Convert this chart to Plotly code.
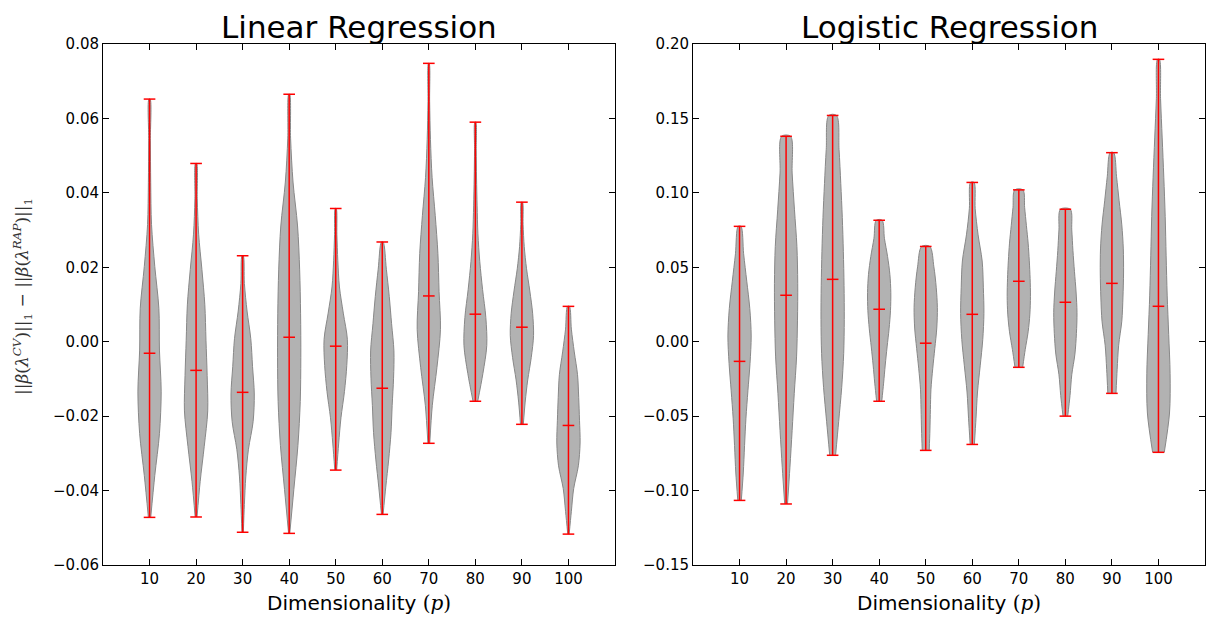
import plotly.graph_objects as go
from plotly.subplots import make_subplots

positions = [10, 20, 30, 40, 50, 60, 70, 80, 90, 100]

# linear regression: extremes and means of the differences
lin_min = [-0.0472, -0.0471, -0.0512, -0.0515, -0.0345, -0.0464, -0.0273, -0.0160, -0.0222, -0.0517]
lin_max = [0.0652, 0.0479, 0.0231, 0.0665, 0.0358, 0.0268, 0.0748, 0.0590, 0.0375, 0.0095]
lin_mean = [-0.0031, -0.0077, -0.0136, 0.0012, -0.0012, -0.0125, 0.0123, 0.0074, 0.0039, -0.0225]

# relative density at 11 evenly spaced levels from min to max
lin_density = [
    [0.10, 0.45, 0.85, 1.00, 0.85, 0.80, 0.45, 0.17, 0.10, 0.07, 0.05],
    [0.08, 0.35, 0.70, 1.00, 0.95, 0.85, 0.75, 0.50, 0.22, 0.10, 0.05],
    [0.06, 0.15, 0.27, 0.50, 0.90, 1.00, 0.85, 0.70, 0.38, 0.15, 0.05],
    [0.05, 0.40, 0.75, 0.95, 1.00, 0.98, 0.90, 0.72, 0.33, 0.12, 0.04],
    [0.08, 0.25, 0.45, 0.75, 0.95, 1.00, 0.65, 0.32, 0.18, 0.10, 0.04],
    [0.07, 0.30, 0.55, 0.75, 0.85, 0.97, 1.00, 0.80, 0.60, 0.35, 0.07],
    [0.08, 0.30, 0.70, 1.00, 0.88, 0.78, 0.55, 0.28, 0.14, 0.07, 0.03],
    [0.20, 0.65, 0.98, 0.90, 0.62, 0.38, 0.22, 0.15, 0.10, 0.07, 0.04],
    [0.12, 0.28, 0.50, 0.80, 1.00, 0.92, 0.68, 0.40, 0.20, 0.10, 0.05],
    [0.06, 0.25, 0.45, 0.85, 1.00, 0.95, 0.88, 0.78, 0.50, 0.25, 0.08],
]

# logistic regression
log_min = [-0.1066, -0.1090, -0.0763, -0.0400, -0.0730, -0.0690, -0.0172, -0.0500, -0.0347, -0.0743]
log_max = [0.0775, 0.1380, 0.1520, 0.0816, 0.0640, 0.1070, 0.1020, 0.0890, 0.1270, 0.1897]
log_mean = [-0.0132, 0.0312, 0.0419, 0.0218, -0.0010, 0.0184, 0.0406, 0.0265, 0.0392, 0.0238]

log_density = [
    [0.15, 0.32, 0.43, 0.55, 0.72, 0.90, 1.00, 0.88, 0.62, 0.35, 0.12],
    [0.12, 0.33, 0.52, 0.70, 0.90, 0.98, 1.00, 0.93, 0.72, 0.52, 0.38],
    [0.25, 0.52, 0.78, 0.95, 1.00, 0.98, 0.92, 0.83, 0.70, 0.55, 0.33],
    [0.22, 0.38, 0.52, 0.68, 0.85, 0.97, 1.00, 0.92, 0.72, 0.45, 0.25],
    [0.30, 0.36, 0.40, 0.45, 0.60, 0.78, 0.95, 1.00, 0.90, 0.70, 0.35],
    [0.18, 0.32, 0.45, 0.68, 0.90, 1.00, 0.95, 0.85, 0.50, 0.25, 0.15],
    [0.33, 0.55, 0.80, 0.95, 1.00, 0.97, 0.90, 0.80, 0.65, 0.50, 0.35],
    [0.20, 0.40, 0.55, 0.82, 0.95, 1.00, 0.92, 0.78, 0.65, 0.55, 0.42],
    [0.35, 0.45, 0.58, 0.85, 0.95, 1.00, 0.98, 0.85, 0.62, 0.40, 0.15],
    [0.50, 0.95, 1.00, 0.88, 0.75, 0.66, 0.58, 0.46, 0.32, 0.18, 0.08],
]

lin_ticks = [0.08, 0.06, 0.04, 0.02, 0.00, -0.02, -0.04, -0.06]
log_ticks = [0.20, 0.15, 0.10, 0.05, 0.00, -0.05, -0.10, -0.15]

VIOLIN_WIDTH = 5.0
FILL = "#b2b2b2"
EDGE = "#888888"
RED = "#ff0000"
FONT = "DejaVu Sans"

# the page puts the figure 8px in from the top-left corner
OFF = 8
W, H = 1214 - 2 * OFF, 627 - 2 * OFF


def px(x):
    return (x - OFF) / W


def py(y):
    return 1 - (y - OFF) / H


def add_violins(fig, col, mins, maxs, means, density):
    for p, lo, hi, dens in zip(positions, mins, maxs, density):
        n = len(dens) - 1
        levels = [lo + (hi - lo) * i / n for i in range(n + 1)]
        half = [d * VIOLIN_WIDTH / 2 for d in dens]
        xs = [p + h for h in half] + [p - h for h in reversed(half)]
        ys = levels + list(reversed(levels))
        fig.add_trace(go.Scatter(
            x=xs, y=ys, mode="lines", fill="toself", fillcolor=FILL,
            line=dict(color=EDGE, width=1, shape="spline", smoothing=0.9),
            hoverinfo="skip", showlegend=False), row=1, col=col)

    # red bars: vertical range line plus caps at min, max and mean
    cap = VIOLIN_WIDTH / 4
    xs, ys = [], []
    for p, lo, hi, m in zip(positions, mins, maxs, means):
        xs += [p, p, None]
        ys += [lo, hi, None]
        for v in (lo, hi, m):
            xs += [p - cap, p + cap, None]
            ys += [v, v, None]
    fig.add_trace(go.Scatter(x=xs, y=ys, mode="lines",
                             line=dict(color=RED, width=1.5),
                             hoverinfo="skip", showlegend=False), row=1, col=col)


fig = make_subplots(rows=1, cols=2)
add_violins(fig, 1, lin_min, lin_max, lin_mean, lin_density)
add_violins(fig, 2, log_min, log_max, log_mean, log_density)

axis_common = dict(showline=True, linecolor="black", linewidth=1, mirror="ticks",
                   ticks="inside", ticklen=6, tickcolor="black", showgrid=False,
                   zeroline=False, automargin=False,
                   tickfont=dict(family=FONT, size=15, color="black"))

fig.update_xaxes(range=[0, 110], tickvals=positions, **axis_common)
fig.update_xaxes(domain=[px(103), px(615)], row=1, col=1)
fig.update_xaxes(domain=[px(693), px(1205)], row=1, col=2)
fig.update_yaxes(domain=[py(565), py(44)], tickformat=".2f", **axis_common)
fig.update_yaxes(range=[-0.06, 0.08], tickvals=lin_ticks, row=1, col=1)
fig.update_yaxes(range=[-0.15, 0.20], tickvals=log_ticks, row=1, col=2)

titles = ["Linear Regression", "Logistic Regression"]
centers = [(103 + 615) / 2, (693 + 1205) / 2]
xlabel = "Dimensionality <span style='font-family:DejaVu Serif'>(<i>p</i>)</span>"
for t, cx in zip(titles, centers):
    fig.add_annotation(text=t, x=px(cx), y=py(27), xref="paper", yref="paper",
                       xanchor="center", yanchor="middle", showarrow=False, borderpad=0,
                       font=dict(family=FONT, size=31, color="black"))
    fig.add_annotation(text=xlabel, x=px(cx), y=py(603), xref="paper", yref="paper",
                       xanchor="center", yanchor="middle", showarrow=False,
                       font=dict(family=FONT, size=20, color="black"))

ylabel = ("||<i>β</i>(<i>λ</i><sup><i>CV</i></sup>)||<sub>1</sub> − "
          "||<i>β</i>(<i>λ</i><sup><i>RAP</i></sup>)||<sub>1</sub>")
fig.add_annotation(text=ylabel, x=px(22), y=py(297), xref="paper", yref="paper",
                   xanchor="center", yanchor="middle", showarrow=False, textangle=-90,
                   font=dict(family="DejaVu Serif", size=17, color="#333333"))

fig.update_layout(width=W, height=H, margin=dict(l=0, r=0, t=0, b=0),
                  plot_bgcolor="white", paper_bgcolor="white", showlegend=False)

fig.write_html("out.html")
